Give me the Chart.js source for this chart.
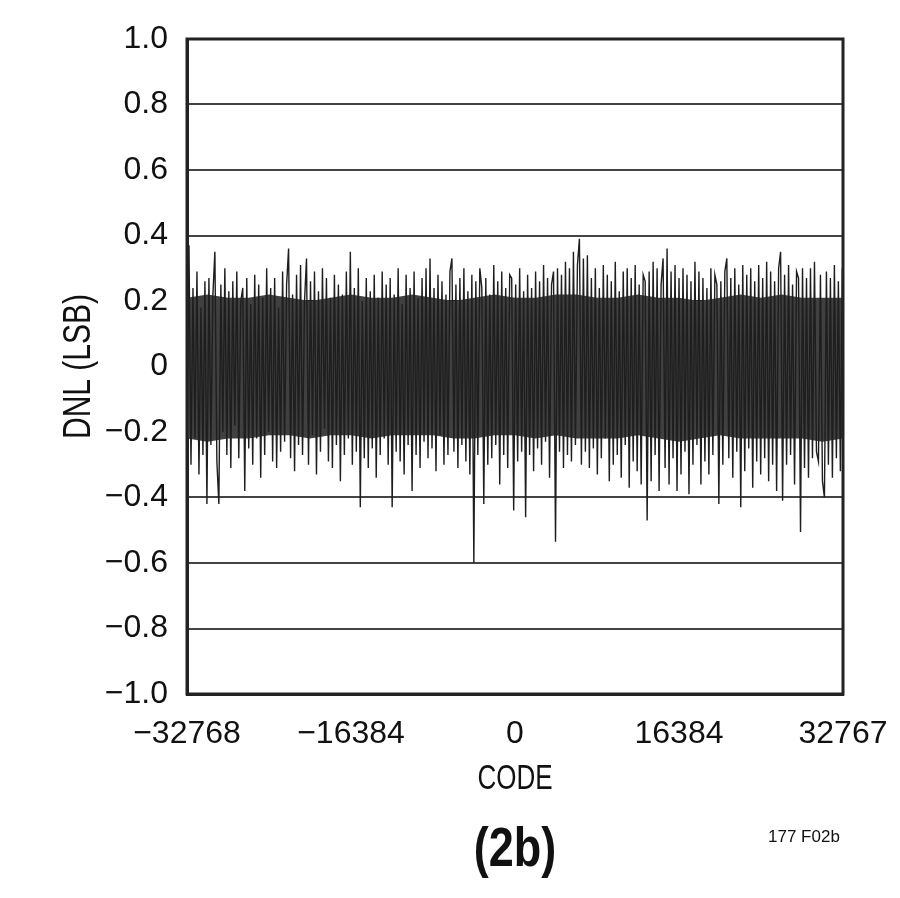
<!DOCTYPE html>
<html>
<head>
<meta charset="utf-8">
<script src="https://cdn.jsdelivr.net/npm/chart.js@4.4.1/dist/chart.umd.min.js"></script>
<style>
  html, body { margin: 0; padding: 0; background: #fff; }
  #wrap { position: relative; width: 900px; height: 898px; }
  #c { position: absolute; left: 0; top: 0; }
  .note { position: absolute; color: #111; font-family: 'Liberation Sans', Arial, sans-serif; white-space: nowrap; }
  #fig { left: 415px; top: 825px; width: 200px; text-align: center; font-size: 45px; font-weight: bold; line-height: 45px; transform: scale(1, 1.25); transform-origin: 100px 26.5px; }
  #ref { left: 768px; top: 828px; font-size: 17px; line-height: 17px; }
</style>
</head>
<body>
<div id="wrap">
  <canvas id="c" width="900" height="898"></canvas>
  <div class="note" id="fig">(2b)</div>
  <div class="note" id="ref">177 F02b</div>
</div>
<script>
// X sampling: one DNL reading every codeStep codes, starting at codeStart
const codeStart = -32768;
const codeStep = 199;
const codeMin = -32768;
const codeMax = 32767;
const codeTicks = [-32768, -16384, 0, 16384, 32767];
const dnlTicks = [-1.0, -0.8, -0.6, -0.4, -0.2, 0, 0.2, 0.4, 0.6, 0.8, 1.0];

// DNL (LSB) values, left to right
const dnl = [
 -0.25, 0.37,-0.30, 0.24,-0.22, 0.29,-0.33, 0.18,-0.27, 0.26,
 -0.42, 0.27,-0.24, 0.22, 0.35,-0.29,-0.42, 0.25,-0.20, 0.30,
 -0.27, 0.23,-0.31, 0.26,-0.18, 0.29,-0.28, 0.20, 0.24,-0.38,
  0.27,-0.25, 0.19,-0.30, 0.28,-0.22, 0.25,-0.34, 0.21,-0.27,
  0.30,-0.20, 0.24,-0.29, 0.27,-0.31, 0.18,-0.26, 0.29,-0.23,
  0.25, 0.36,-0.28, 0.22,-0.32, 0.28,-0.24, 0.31,-0.27, 0.20,
  0.33,-0.30, 0.26,-0.21, 0.29,-0.33, 0.23,-0.26, 0.30,-0.19,
  0.27,-0.29, 0.21,-0.31, 0.28,-0.24, 0.25,-0.35, 0.22,-0.27,
  0.29,-0.22, 0.35,-0.30, 0.24,-0.26, 0.30,-0.43, 0.20,-0.28,
  0.27,-0.31, 0.23,-0.25, 0.28,-0.34, 0.21,-0.27, 0.29,-0.22,
  0.25,-0.30, 0.27,-0.43, 0.22,-0.26, 0.30,-0.29, 0.19,-0.33,
  0.28,-0.24, 0.24,-0.38, 0.29,-0.27, 0.21,-0.31, 0.27,-0.23,
  0.30,-0.28, 0.33,-0.25, 0.24,-0.32, 0.28,-0.21, 0.26,-0.30,
  0.22,-0.27, 0.29, 0.33,-0.26, 0.25,-0.31, 0.27,-0.24, 0.30,
 -0.29, 0.23,-0.33, 0.28,-0.60, 0.26,-0.27, 0.30, 0.24,-0.42,
  0.27,-0.30, 0.22,-0.28, 0.31,-0.24, 0.26,-0.36, 0.29,-0.27,
  0.24,-0.31, 0.28, 0.27,-0.44, 0.25,-0.29, 0.30,-0.26, 0.23,
 -0.46, 0.28,-0.27, 0.24,-0.32, 0.29,-0.25, 0.26,-0.30, 0.31,
 -0.23, 0.27,-0.34, 0.25, 0.29,-0.535,0.30,-0.26, 0.28,-0.31,
  0.32,-0.27, 0.30,-0.29, 0.35,-0.24, 0.31, 0.39,-0.30, 0.33,
 -0.26, 0.34,-0.31, 0.27,-0.25, 0.30,-0.33, 0.24,-0.28, 0.31,
 -0.22, 0.28,-0.35, 0.26,-0.30, 0.32,-0.27, 0.23,-0.34, 0.29,
 -0.24, 0.30,-0.37, 0.27,-0.29, 0.31,-0.32, 0.25,-0.36, 0.28,
  0.26,-0.47, 0.29,-0.35, 0.32,-0.27, 0.30,-0.38, 0.25, 0.33,
 -0.31, 0.36,-0.36, 0.29,-0.28, 0.31,-0.38, 0.27,-0.33, 0.30,
 -0.26, 0.28,-0.39, 0.26,-0.30, 0.32,-0.24, 0.29,-0.36, 0.27,
 -0.29, 0.24,-0.33, 0.30,-0.27, 0.28, 0.25,-0.42, 0.26,-0.30,
  0.29, 0.33,-0.28, 0.27,-0.34, 0.30,-0.26, 0.25,-0.43, 0.31,
 -0.32, 0.28,-0.25, 0.30,-0.37, 0.26,-0.29, 0.31,-0.33, 0.27,
 -0.28, 0.32,-0.35, 0.29,-0.30, 0.26,-0.38, 0.30, 0.35,-0.41,
  0.28,-0.30, 0.31,-0.27, 0.25,-0.36, 0.29, 0.27,-0.505,0.30,
 -0.31, 0.27,-0.34, 0.30,-0.28, 0.32,-0.26,-0.29, 0.28,-0.35,
 -0.40, 0.29,-0.30, 0.27,-0.34, 0.31,-0.28, 0.26,-0.32, 0.30
];

// Envelope of the densely overlapping codes (solid dark core), one pair per 2048-code block
const coreStep = 2048;
const coreHi = [
  0.21, 0.22, 0.21, 0.21, 0.22, 0.21, 0.20, 0.21, 0.22, 0.21, 0.21,
  0.22, 0.21, 0.20, 0.21, 0.22, 0.21, 0.21, 0.22, 0.22, 0.21, 0.21,
  0.22, 0.21, 0.21, 0.20, 0.21, 0.22, 0.21, 0.22, 0.21, 0.21, 0.21
];
const coreLo = [
 -0.22,-0.23,-0.22,-0.22,-0.21,-0.21,-0.22,-0.21,-0.21,-0.22,-0.21,
 -0.21,-0.21,-0.22,-0.22,-0.21,-0.21,-0.22,-0.21,-0.22,-0.22,-0.22,
 -0.21,-0.22,-0.23,-0.22,-0.21,-0.22,-0.22,-0.22,-0.22,-0.23,-0.22
];

const points = dnl.map((v, i) => ({ x: codeStart + i * codeStep, y: v }));
const corePts = arr => arr.map((v, i) => ({ x: Math.min(codeMax, codeStart + i * coreStep), y: v }));

const sans = "'Liberation Sans', Arial, sans-serif";
const minus = v => (Math.abs(v) < 1e-9 ? '0' : (v < 0 ? '\u2212' : '') + Math.abs(v).toFixed(1));

// Frame round the plot area + condensed (stretched) axis titles
const frame = {
  id: 'frame',
  beforeDraw(chart) {
    const xs = chart.scales.x, ys = chart.scales.y;
    if (!xs._stretched) {
      const ox = xs.drawTitle;
      xs.drawTitle = function () {
        const ctx = this.ctx, c = this.bottom - 18.5;
        ctx.save(); ctx.translate(0, c); ctx.scale(1, 1.34); ctx.translate(0, -c);
        ox.call(this); ctx.restore();
      };
      xs._stretched = true;
    }
    if (!ys._stretched) {
      const oy = ys.drawTitle;
      ys.drawTitle = function () {
        const ctx = this.ctx, c = this.left + 79;
        ctx.save(); ctx.translate(c, 0); ctx.scale(1.3, 1); ctx.translate(-c, 0);
        oy.call(this); ctx.restore();
      };
      ys._stretched = true;
    }
  },
  afterDraw(chart) {
    const { ctx, chartArea: a } = chart;
    ctx.save();
    ctx.strokeStyle = '#222';
    ctx.lineWidth = 3;
    ctx.strokeRect(a.left, a.top, a.right - a.left, a.bottom - a.top);
    ctx.restore();
  }
};

new Chart(document.getElementById('c'), {
  type: 'line',
  data: {
    datasets: [
      { data: corePts(coreHi), borderWidth: 0, borderColor: 'rgba(0,0,0,0)', backgroundColor: '#404040', fill: '+1', pointRadius: 0, tension: 0, order: 2 },
      { data: corePts(coreLo), borderWidth: 0, borderColor: 'rgba(0,0,0,0)', backgroundColor: '#404040', fill: false, pointRadius: 0, tension: 0, order: 2 },
      { data: points, borderColor: '#1e1e1e', borderWidth: 1.4, pointRadius: 0, tension: 0, fill: false, order: 1 }
    ]
  },
  options: {
    responsive: false,
    animation: false,
    devicePixelRatio: 1,
    layout: { padding: { left: 0, top: 39, right: 57, bottom: 100 } },
    plugins: { legend: { display: false }, tooltip: { enabled: false } },
    scales: {
      x: {
        type: 'linear',
        min: codeMin,
        max: codeMax,
        afterFit(s) { s.height = 104; s.paddingLeft = 0; s.paddingRight = 0; },
        afterBuildTicks(s) { s.ticks = codeTicks.map(v => ({ value: v })); },
        grid: { display: false, drawTicks: false },
        border: { display: true, color: '#222', width: 3 },
        ticks: {
          padding: 21,
          color: '#111',
          maxRotation: 0,
          autoSkip: false,
          font: { family: sans, size: 32 },
          callback: v => (v < 0 ? '\u2212' : '') + Math.abs(v)
        },
        title: {
          display: true,
          text: 'CODE',
          color: '#111',
          font: { family: sans, size: 26, lineHeight: 1 },
          padding: { top: 0, bottom: 5.5 }
        }
      },
      y: {
        type: 'linear',
        min: -1,
        max: 1,
        z: 1,
        afterFit(s) { s.width = 187; s.paddingTop = 0; s.paddingBottom = 0; },
        afterBuildTicks(s) { s.ticks = dnlTicks.map(v => ({ value: v })); },
        grid: {
          color: ctx => (Math.abs(ctx.tick.value) < 1e-9 ? 'rgba(40,40,40,0.3)' : (Math.abs(Math.abs(ctx.tick.value) - 0.2) < 1e-9 ? '#1a1a1a' : '#444')),
          lineWidth: 2,
          drawTicks: false
        },
        border: { display: true, color: '#222', width: 3 },
        ticks: {
          padding: 19,
          color: '#111',
          font: { family: sans, size: 32 },
          callback: v => minus(v)
        },
        title: {
          display: true,
          text: 'DNL (LSB)',
          color: '#111',
          font: { family: sans, size: 30, lineHeight: 1 },
          padding: { top: 64, bottom: 0 }
        }
      }
    }
  },
  plugins: [frame]
});
</script>
</body>
</html>
